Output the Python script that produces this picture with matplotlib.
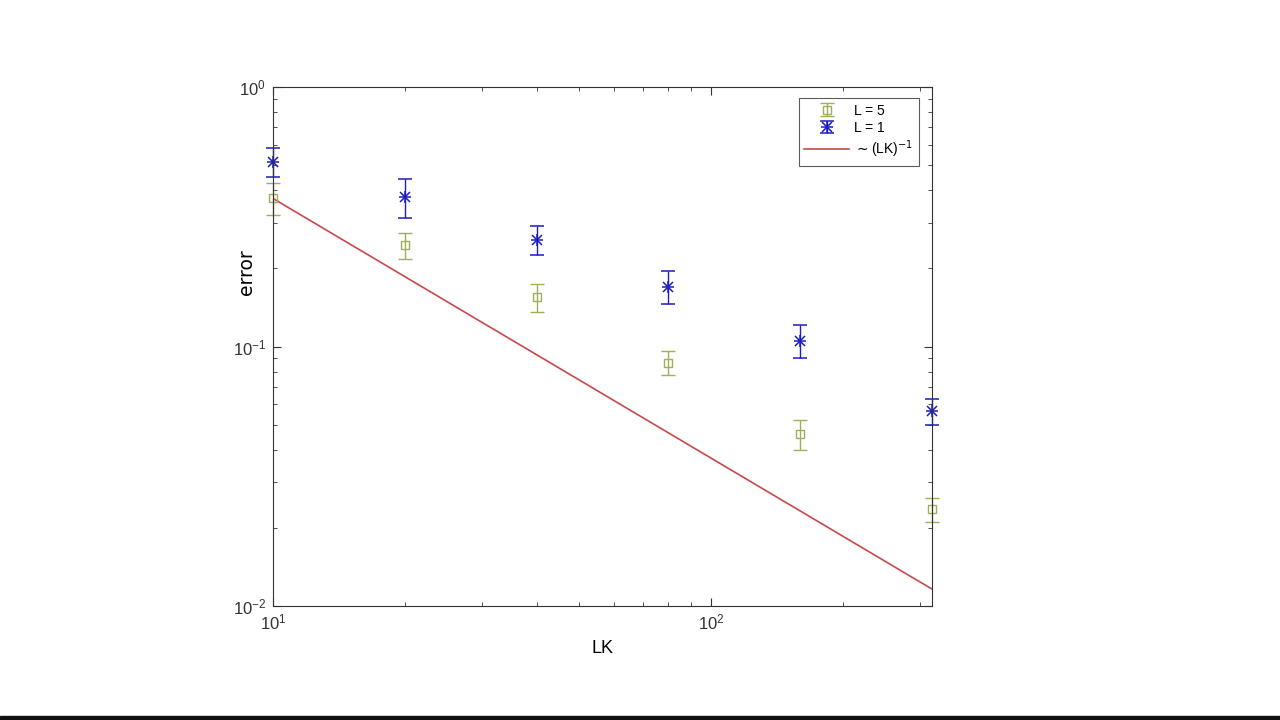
import numpy as np
import matplotlib
matplotlib.use('Agg')
from matplotlib import pyplot as plt
from matplotlib.container import ErrorbarContainer
from matplotlib.legend_handler import HandlerErrorbar, HandlerTuple

# ----- DATA -----
lk = [10, 20, 40, 80, 160, 320]

err_l5 = [0.373, 0.246, 0.155, 0.0864, 0.046, 0.0236]
err_l5_hi = [0.427, 0.274, 0.174, 0.0961, 0.0521, 0.0261]
err_l5_lo = [0.321, 0.217, 0.136, 0.0776, 0.0399, 0.0211]

err_l1 = [0.514, 0.377, 0.257, 0.170, 0.105, 0.0564]
err_l1_hi = [0.582, 0.442, 0.291, 0.195, 0.121, 0.0628]
err_l1_lo = [0.450, 0.313, 0.225, 0.146, 0.090, 0.0499]

ref_coef = 3.72  # ~ (LK)^-1

# ----- PLOT -----
plt.rcParams['font.family'] = ['Liberation Sans', 'DejaVu Sans']
fig = plt.figure(figsize=(12.8, 7.2), dpi=100)
ax = fig.add_axes([0.2133, 0.1583, 0.5148, 0.7208])

green = '#a0ae5a'
blue = '#1c1cc0'
red = '#c8484a'

y5 = np.array(err_l5)
yerr5 = [y5 - np.array(err_l5_lo), np.array(err_l5_hi) - y5]
h5 = ax.errorbar(lk, y5, yerr=yerr5, fmt='s', color=green, mfc='none', ms=6,
                 mew=1.0, elinewidth=1.0, capsize=5, clip_on=False)

# matlab style asterisk = plus + cross
y1 = np.array(err_l1)
yerr1 = [y1 - np.array(err_l1_lo), np.array(err_l1_hi) - y1]
h1 = ax.errorbar(lk, y1, yerr=yerr1, fmt='+', color=blue, ms=9, mew=1.1,
                 elinewidth=1.0, capsize=5, clip_on=False)
hx, = ax.plot(lk, y1, linestyle='none', marker='x', ms=6.5, mew=1.1,
              color=blue, clip_on=False)

x_line = np.array([lk[0], lk[-1]])
hl, = ax.plot(x_line, ref_coef / x_line, '-', color=red, lw=1.2)

ax.set_xscale('log')
ax.set_yscale('log')
ax.set_xlim(10, 320)
ax.set_ylim(0.01, 1)
ax.set_xlabel('LK', fontsize=13, labelpad=5)
ax.set_ylabel('error', fontsize=13.5, family='DejaVu Sans')
ax.yaxis.set_label_coords(-0.026, 0.643)

ax.tick_params(which='both', direction='in', top=True, right=True,
               labelsize=12, colors='#333333')
ax.tick_params(which='major', length=6, pad=5)
ax.tick_params(which='minor', length=3)
for s in ax.spines.values():
    s.set_color('#333333')
    s.set_linewidth(0.8)

leg = ax.legend([h5, (h1, hx), hl], ['L = 5', 'L = 1', r'$\sim$(LK)$^{-1}$'],
                handler_map={ErrorbarContainer: HandlerErrorbar(yerr_size=0.45),
                             tuple: HandlerTuple(ndivide=1)},
                loc='upper right', bbox_to_anchor=(0.980, 0.979),
                borderaxespad=0, fontsize=10, frameon=True, fancybox=False,
                edgecolor='#333333', handlelength=3.2, handletextpad=0.4,
                labelspacing=0.25, borderpad=0.4)
leg.get_frame().set_linewidth(0.8)

# dark strip at the bottom of the frame
fig.patches.append(plt.Rectangle((0, 0), 1, 0.006, transform=fig.transFigure,
                                 color='#111111', zorder=10))

fig.savefig('out.png', dpi=100)
